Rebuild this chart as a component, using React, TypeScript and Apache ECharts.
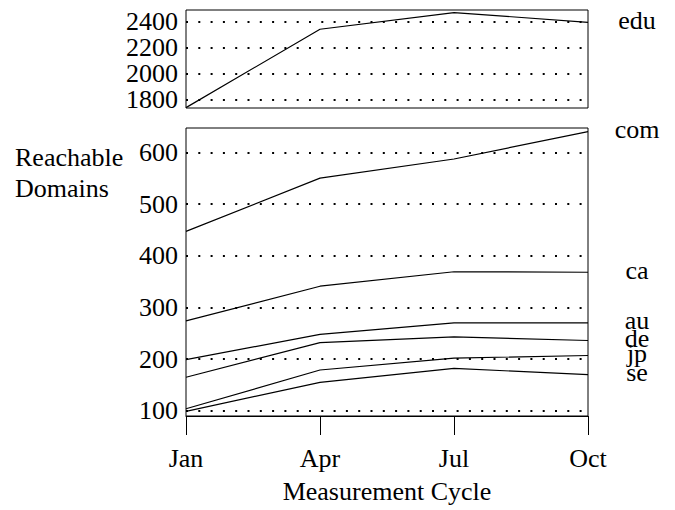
import React, { useEffect, useRef } from "react";
import * as echarts from "echarts";

const months = ["Jan", "Apr", "Jul", "Oct"];
const eduValues = [1740, 2339, 2466, 2392];
const comValues = [447, 550, 587, 640];
const caValues = [274, 341, 369, 368];
const auValues = [199, 248, 270, 270];
const deValues = [165, 232, 243, 236];
const jpValues = [104, 179, 202, 207];
const seValues = [99, 155, 182, 170];
const topTicks = [1800, 2000, 2200, 2400];
const bottomTicks = [100, 200, 300, 400, 500, 600];

const FONT = "'Liberation Serif', 'Times New Roman', serif";
const FS = 26;

export default function App() {
  const ref = useRef<HTMLDivElement>(null);
  useEffect(() => {
    if (!ref.current) return;
    const chart = echarts.init(ref.current, undefined, { renderer: "svg" });
    const dotted = { color: "#000", type: [2, 10.3], width: 2 };
    const lineSeries = (name: string, data: number[], idx: number) => ({
      name,
      type: "line",
      xAxisIndex: idx,
      yAxisIndex: idx,
      data,
      symbol: "none",
      lineStyle: { color: "#000", width: 1.2 },
      endLabel: {
        show: true,
        formatter: name,
        distance: 49,
        align: "center",
        offset: [0, -2],
        color: "#000",
        fontFamily: FONT,
        fontSize: FS,
      },
    });
    const plain = (v: number) => String(v);
    chart.setOption({
      animation: false,
      backgroundColor: "#fff",
      textStyle: { fontFamily: FONT, fontSize: FS, color: "#000" },
      grid: [
        { left: 178, top: 2, width: 402, height: 98, show: true, borderColor: "#000", borderWidth: 1 },
        { left: 178, top: 120, width: 402, height: 288, show: true, borderColor: "#000", borderWidth: 1 },
      ],
      xAxis: [
        {
          type: "category",
          gridIndex: 0,
          data: months,
          boundaryGap: false,
          axisLine: { show: false },
          axisTick: { show: false },
          axisLabel: { show: false },
          splitLine: { show: false },
        },
        {
          type: "category",
          gridIndex: 1,
          data: months,
          boundaryGap: false,
          axisLine: { show: true, lineStyle: { color: "#000" } },
          axisTick: { show: true, inside: false, length: 19, lineStyle: { color: "#000" } },
          axisLabel: { margin: 29, color: "#000", fontFamily: FONT, fontSize: FS },
          splitLine: { show: false },
          name: "Measurement Cycle",
          nameLocation: "middle",
          nameGap: 62,
          nameTextStyle: { color: "#000", fontFamily: FONT, fontSize: FS },
        },
      ],
      yAxis: [
        {
          type: "value",
          gridIndex: 0,
          min: 1737,
          max: 2486,
          axisLine: { show: false },
          axisTick: { show: false, customValues: topTicks },
          axisLabel: { customValues: topTicks, formatter: plain, margin: 8, color: "#000", fontFamily: FONT, fontSize: FS },
          splitLine: { show: true, lineStyle: dotted },
        },
        {
          type: "value",
          gridIndex: 1,
          min: 90,
          max: 647,
          axisLine: { show: false },
          axisTick: { show: false, customValues: bottomTicks },
          axisLabel: { customValues: bottomTicks, formatter: plain, margin: 8, color: "#000", fontFamily: FONT, fontSize: FS },
          splitLine: { show: true, lineStyle: dotted },
        },
      ],
      graphic: [
        {
          type: "text",
          left: 7,
          top: 134,
          style: {
            text: "Reachable\nDomains",
            fontFamily: FONT,
            fontSize: FS,
            lineHeight: 31,
            fill: "#000",
            align: "center",
            width: 120,
          },
        },
      ],
      series: [
        lineSeries("edu", eduValues, 0),
        lineSeries("com", comValues, 1),
        lineSeries("ca", caValues, 1),
        lineSeries("au", auValues, 1),
        lineSeries("de", deValues, 1),
        lineSeries("jp", jpValues, 1),
        lineSeries("se", seValues, 1),
      ],
    });
    return () => chart.dispose();
  }, []);
  return <div ref={ref} style={{ width: 667, height: 502 }} />;
}
